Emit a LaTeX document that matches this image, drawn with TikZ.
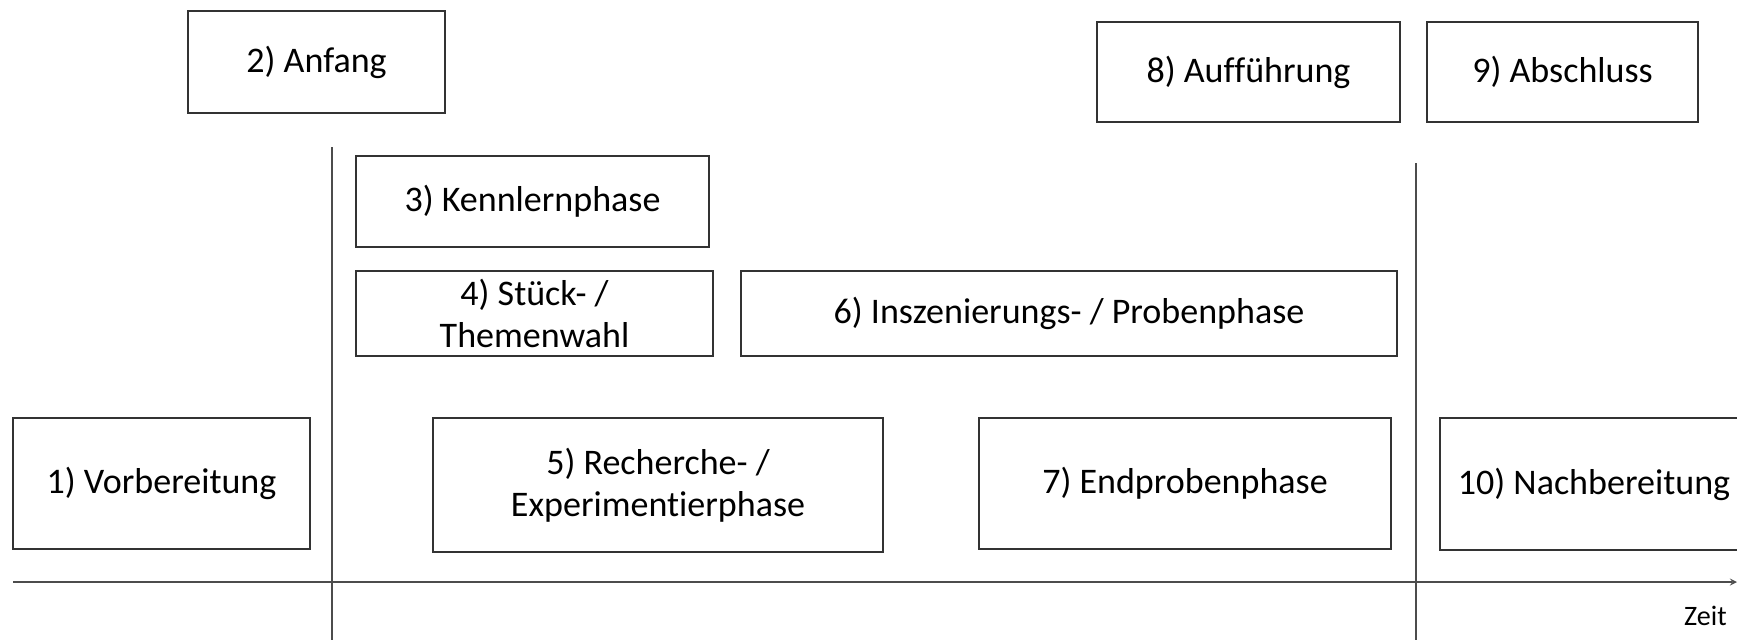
\documentclass[tikz,border=0pt]{standalone}
\usepackage{fontspec}
\setmainfont{Carlito}[Ligatures=NoCommon]
\usepackage{tikz}

\tikzset{
  phase/.style={draw=black!80, line width=1.1pt, rectangle, align=center,
    inner sep=0pt, font=\fontsize{20.5}{24}\selectfont},
  border/.style={draw=black!70, line width=0.8pt}
}

\begin{document}
\begin{tikzpicture}[x=0.02cm, y=-0.02cm]
                \useasboundingbox (0,0) rectangle (1737,640);
                \clip (0,0) rectangle (1737,640);

                % Before the start
                \node[phase, minimum width=5.94cm, minimum height=2.62cm] (vorb) at (161.5,483.5) {1) Vorbereitung};
                \node[phase, minimum width=5.14cm, minimum height=2.04cm] (anfang) at (316.5,62) {2) Anfang};

                % Phases between the borders
                \node[phase, minimum width=7.06cm, minimum height=1.82cm] (kennlern) at (532.5,201.5) {3) Kennlernphase};
                \node[phase, minimum width=7.14cm, minimum height=1.70cm] (stueck) at (534.5,313.5) {4) Stück- /\\Themenwahl};
                \node[phase, minimum width=9.00cm, minimum height=2.68cm] (recherche) at (658,485) {5) Recherche- /\\Experimentierphase};
                \node[phase, minimum width=13.12cm, minimum height=1.70cm] (proben) at (1069,313.5) {6) Inszenierungs- / Probenphase};
                \node[phase, minimum width=8.24cm, minimum height=2.62cm] (endproben) at (1185,483.5) {7) Endprobenphase};

                % After the end
                \node[phase, minimum width=6.06cm, minimum height=2.00cm] (auffuehr) at (1248.5,72) {8) Aufführung};
                \node[phase, minimum width=5.42cm, minimum height=2.00cm] (abschluss) at (1562.5,72) {9) Abschluss};
                \node[phase, minimum width=6.16cm, minimum height=2.64cm] (nachb) at (1594,484) {10) Nachbereitung};

                % Borders
                \coordinate (startTop) at (332,147);
                \coordinate (startBot) at (332,640);
                \coordinate (endTop) at (1416,163);
                \coordinate (endBot) at (1416,640);
                \draw[border] (startTop) -- (startBot);
                \draw[border] (endTop) -- (endBot);

                % Time axis
                \coordinate (t0) at (13,582);
                \coordinate (t1) at (1737,582);
                \draw[border, ->, >=stealth] (t0) -- (t1);
                \node[font=\fontsize{16}{18}\selectfont, anchor=base east] (zeit) at (1733,625) {Zeit};
\end{tikzpicture}
\end{document}
